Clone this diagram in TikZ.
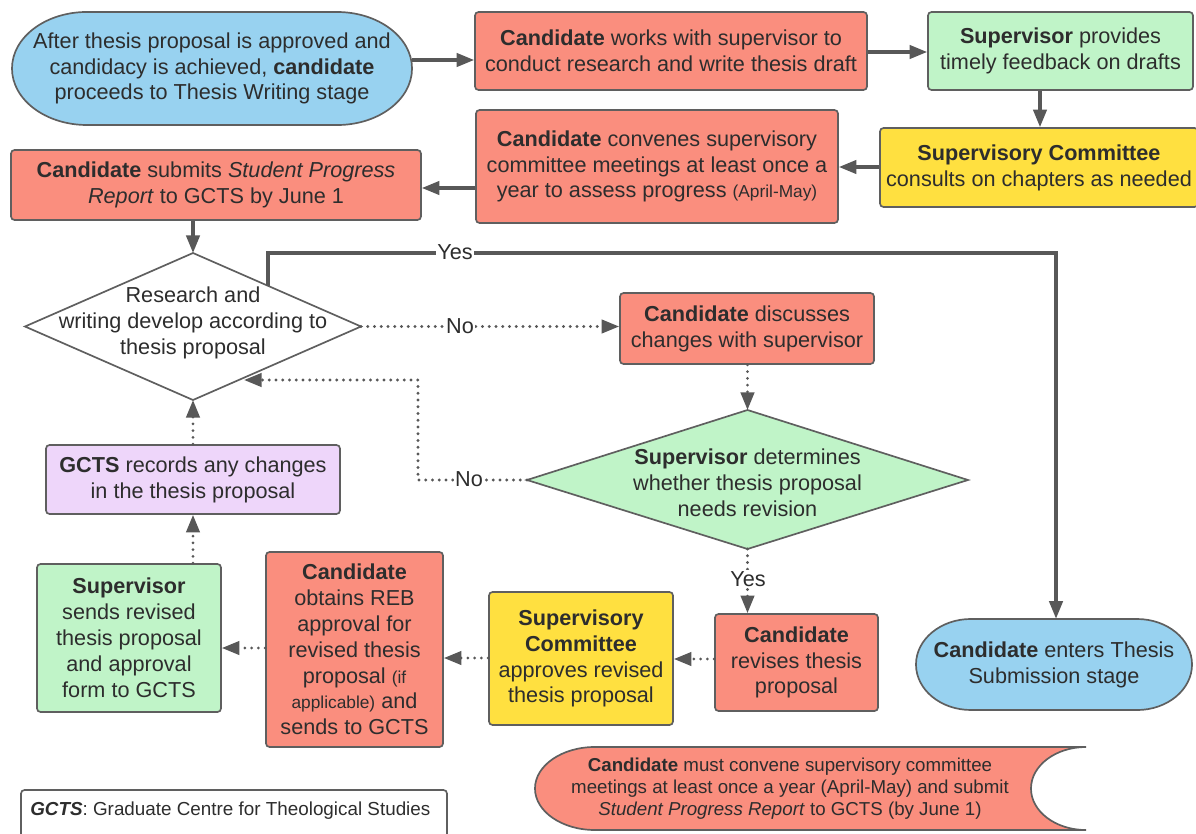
\documentclass[tikz,border=0pt]{standalone}
\usepackage{fontspec}
\setmainfont{Liberation Sans}
\usetikzlibrary{arrows.meta}
\definecolor{salmon}{RGB}{250,142,126}
\definecolor{lgreen}{RGB}{192,244,200}
\definecolor{lyellow}{RGB}{255,224,64}
\definecolor{lblue}{RGB}{152,210,240}
\definecolor{lpurple}{RGB}{238,214,250}
\definecolor{edgegray}{RGB}{95,95,95}
\definecolor{conn}{RGB}{88,88,88}
\definecolor{txt}{RGB}{45,45,45}
\newcommand\mainsize{\fontsize{15.4}{18.4}\selectfont}
\newcommand\smallsz{\fontsize{12.3}{18.4}\selectfont}
\newcommand\bannersz{\fontsize{13.3}{15.6}\selectfont}
\newcommand\legendsz{\fontsize{13.4}{16}\selectfont}
\newcommand\pbox[7]{\node[#6, minimum width={(#4-#2)*0.025cm}, minimum height={(#5-#3)*0.025cm}] (#1) at ({(#2+#4)/2},{(#3+#5)/2}) {#7};}
\begin{document}
\begin{tikzpicture}[x=0.025cm,y=-0.025cm,
 card/.style={draw=edgegray, line width=1.2pt, rounded corners=2.5pt, inner sep=0pt, align=center, font=\mainsize, text=txt},
 ghost/.style={inner sep=0pt, align=center, font=\mainsize, text=txt},
 shapeline/.style={draw=edgegray, line width=1.2pt},
 arr/.style={draw=conn, line width=2.3pt, -{Triangle[length=12.5pt,width=9.5pt]}},
 darr/.style={draw=conn, line width=2.2pt, line cap=round, dash pattern=on 0pt off 4.8pt, -{Triangle[length=12.5pt,width=9.5pt]}},
 lbl/.style={fill=white, inner sep=1pt, font=\mainsize, text=txt},
]
\useasboundingbox (0,0) rectangle (1196,834);

% helper coordinates
\coordinate (c60) at (0,60);
\coordinate (c52) at (0,52);
\coordinate (c1040) at (1040,0);
\coordinate (c167) at (0,167);
\coordinate (c188) at (0,188);
\coordinate (c659) at (0,659);
\coordinate (c658) at (0,658);
\coordinate (c648) at (0,648);
\coordinate (c193) at (193,0);
\coordinate (yc) at (1056,253);

% start stadium
\filldraw[fill=lblue, shapeline] (87,12) -- (337,12) arc[start angle=90,end angle=-90,x radius=1.875cm,y radius=1.4125cm] -- (87,125) arc[start angle=270,end angle=90,x radius=1.875cm,y radius=1.4125cm] -- cycle;
\pbox{start}{12}{12}{412}{125}{ghost}{After thesis proposal is approved and\\candidacy is achieved, \textbf{candidate}\\proceeds to Thesis Writing stage}

\pbox{work}{475}{12}{867}{90}{card, fill=salmon}{\textbf{Candidate} works with supervisor to\\conduct research and write thesis draft}
\pbox{sfb}{928}{12}{1193}{90}{card, fill=lgreen}{\textbf{Supervisor} provides\\timely feedback on drafts}
\pbox{scc}{880}{128}{1198}{207}{card, fill=lyellow}{\textbf{Supervisory Committee}\\consults on chapters as needed}
\pbox{conv}{476}{110}{838}{223}{card, fill=salmon}{\textbf{Candidate} convenes supervisory\\committee meetings at least once a\\year to assess progress {\smallsz(April-May)}}
\pbox{spr}{11}{150}{421}{220}{card, fill=salmon}{\textbf{Candidate} submits \textit{Student Progress}\\\textit{Report} to GCTS by June 1}

% decision 1
\filldraw[fill=white, shapeline] (193,253) -- (361,326.5) -- (193,400) -- (25,326.5) -- cycle;
\coordinate (rqT) at (193,253);
\coordinate (rqR) at (361,326.5);
\coordinate (rqB) at (193,400);
\coordinate (rqL) at (25,326.5);
\coordinate (rqY) at (268,285.8);
\coordinate (rqN) at (244,380);
\node[ghost] (rq) at (193,323) {Research and\\writing develop according to\\thesis proposal};

\pbox{disc}{620}{293}{874}{364}{card, fill=salmon}{\textbf{Candidate} discusses\\changes with supervisor}

% decision 2
\filldraw[fill=lgreen, shapeline] (747.5,410) -- (968,480) -- (747.5,549) -- (527,480) -- cycle;
\coordinate (gdT) at (747.5,410);
\coordinate (gdR) at (968,480);
\coordinate (gdB) at (747.5,549);
\coordinate (gdL) at (527,480);
\node[ghost] (gd) at (747.5,483) {\textbf{Supervisor} determines\\whether thesis proposal\\needs revision};

\pbox{rev}{715}{614}{878}{711}{card, fill=salmon}{\textbf{Candidate}\\revises thesis\\proposal}
\pbox{app}{489}{592}{673}{725}{card, fill=lyellow}{\textbf{Supervisory}\\\textbf{Committee}\\approves revised\\thesis proposal}
\pbox{reb}{266}{552}{443}{747}{card, fill=salmon}{\textbf{Candidate}\\obtains REB\\approval for\\revised thesis\\proposal {\smallsz(if}\\{\smallsz applicable)} and\\sends to GCTS}
\pbox{sup}{37}{564}{221}{712}{card, fill=lgreen}{\textbf{Supervisor}\\sends revised\\thesis proposal\\and approval\\form to GCTS}
\pbox{rec}{46}{445}{340}{514}{card, fill=lpurple}{\textbf{GCTS} records any changes\\in the thesis proposal}

% end stadium
\filldraw[fill=lblue, shapeline] (971,619) -- (1137,619) arc[start angle=90,end angle=-90,x radius=1.375cm,y radius=1.1375cm] -- (971,710) arc[start angle=270,end angle=90,x radius=1.375cm,y radius=1.1375cm] -- cycle;
\pbox{enter}{916}{619}{1192}{710}{ghost}{\textbf{Candidate} enters Thesis\\Submission stage}

% banner
\filldraw[fill=salmon, shapeline] (595,747) -- (1086,747) arc[start angle=90,end angle=270,x radius=1.375cm,y radius=1.0375cm] -- (595,830) arc[start angle=270,end angle=90,x radius=1.5cm,y radius=1.0375cm] -- cycle;
\node[ghost, font=\bannersz] (note) at (790,789) {\textbf{Candidate} must convene supervisory committee\\meetings at least once a year (April-May) and submit\\\textit{Student Progress Report} to GCTS (by June 1)};

% legend
\draw[shapeline, rounded corners=2.5pt] (21,840) -- (21,790) -- (447,790) -- (447,840);
\node[ghost, font=\legendsz, anchor=west] (leg) at (30,811) {\textbf{\textit{GCTS}}: Graduate Centre for Theological Studies};

% connectors
\draw[arr] (start.east |- c60) -- (work.west |- c60);
\draw[arr] (work.east |- c52) -- (sfb.west |- c52);
\draw[arr] (sfb.south -| c1040) -- (scc.north -| c1040);
\draw[arr] (scc.west |- c167) -- (conv.east |- c167);
\draw[arr] (conv.west |- c188) -- (spr.east |- c188);
\draw[arr] (spr.south -| rqT) -- (rqT);
\draw[arr] (rqY) -- (rqY |- rqT) -- (yc) -- (enter.north -| yc);
\node[lbl] (yes1) at (455,252) {Yes};
\draw[darr] (rqR) -- (disc.west |- rqR);
\node[lbl] (no1) at (460,326) {No};
\draw[darr] (disc.south -| gdT) -- (gdT);
\coordinate (nb1) at (418,480);
\coordinate (nb2) at (418,380);
\draw[darr] (gdL) -- (nb1) -- (nb2) -- (rqN);
\node[lbl] (no2) at (469,479) {No};
\draw[darr] (gdB) -- (rev.north -| gdB);
\node[lbl] (yes2) at (748,579) {Yes};
\draw[darr] (rev.west |- c659) -- (app.east |- c659);
\draw[darr] (app.west |- c658) -- (reb.east |- c658);
\draw[darr] (reb.west |- c648) -- (sup.east |- c648);
\draw[darr] (sup.north -| c193) -- (rec.south -| c193);
\draw[darr] (rec.north) -- (rqB);
\end{tikzpicture}
\end{document}
